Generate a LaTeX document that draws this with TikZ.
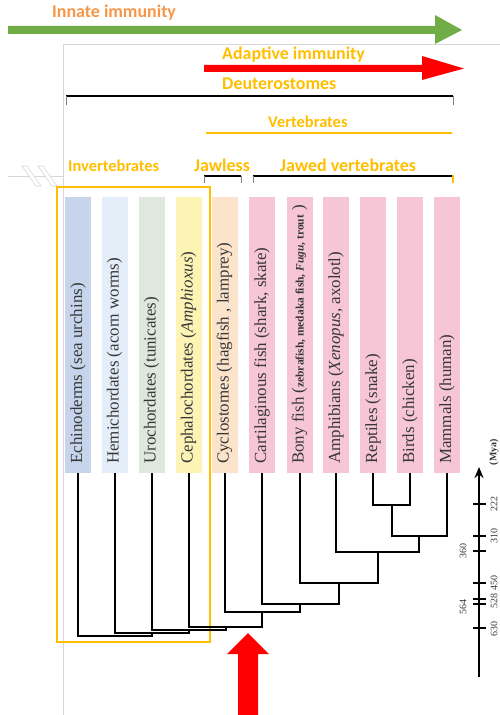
\documentclass[tikz,border=0pt]{standalone}
\usepackage{fontspec}
\setmainfont{Liberation Serif}
\newfontfamily\calib{Carlito}
\usetikzlibrary{arrows.meta}
\definecolor{gold}{RGB}{255,190,0}
\definecolor{innate}{RGB}{247,150,70}
\definecolor{grn}{RGB}{112,173,71}
\definecolor{txt}{RGB}{55,55,55}
\definecolor{bA}{RGB}{198,212,236}
\definecolor{bB}{RGB}{228,238,249}
\definecolor{bC}{RGB}{222,232,220}
\definecolor{bD}{RGB}{253,243,181}
\definecolor{bE}{RGB}{252,228,204}
\definecolor{bP}{RGB}{247,198,214}
\definecolor{frame}{RGB}{215,215,215}
\begin{document}
\begin{tikzpicture}[x=1bp,y=-1bp,
  hdr/.style={inner sep=0pt, anchor=base west, text=gold, font=\calib\bfseries\fontsize{18}{20}\selectfont},
  hdrs/.style={hdr, font=\calib\bfseries\fontsize{16.5}{19}\selectfont},
  barbox/.style={draw=none, minimum width=26bp, minimum height=276bp, inner sep=0pt},
  blabel/.style={rotate=90, anchor=west, inner sep=0pt, text=txt, font=\fontsize{17}{19}\selectfont},
  tree/.style={line width=2bp, line join=miter},
  axlbl/.style={rotate=90, inner sep=0pt, text=txt, font=\fontsize{10}{11}\selectfont},
  tickln/.style={line width=1.2bp},
  thinframe/.style={draw=frame, line width=0.8bp}]
\useasboundingbox (0,0) rectangle (500,715);
% frame lines
\draw[thinframe] (63,715) -- (63,44) -- (500,44);
% break mark on the left
\draw[thinframe] (8,176) -- (63,176);
\filldraw[draw=frame, fill=white, line width=0.6bp] (22,166) -- (27,166) -- (41,186) -- (36,186) -- cycle;
\filldraw[draw=frame, fill=white, line width=0.6bp] (38,166) -- (43,166) -- (57,186) -- (52,186) -- cycle;
% top arrows
\fill[grn] (8,26) -- (435,26) -- (435,15) -- (462,30) -- (435,44) -- (435,34) -- (8,34) -- cycle;
\node[hdr, text=innate] (innate) at (52,18) {Innate immunity};
\fill[red] (204,65) -- (422,65) -- (422,56) -- (464,68.5) -- (422,80) -- (422,72) -- (204,72) -- cycle;
\node[hdr] (adaptive) at (222,60) {Adaptive immunity};
% Deuterostomes bracket
\node[hdr] (deut) at (222,90) {Deuterostomes};
\draw[line width=1.5bp] (66,96) -- (453,96);
\draw[gray, line width=0.6bp] (66,96) -- (66,105) (453,96) -- (453,105);
% Vertebrates
\node[hdrs] (vert) at (268,128) {Vertebrates};
\draw[gold, line width=2bp] (206,133) -- (452,133);
% Invertebrates / Jawless / Jawed
\node[hdrs] (invert) at (68,171) {Invertebrates};
\node[hdr] (jawless) at (194,171) {Jawless};
\node[hdr] (jawed) at (280,171) {Jawed vertebrates};
\draw[line width=1.5bp] (204,176) -- (241,176);
\draw[gray, line width=0.6bp] (204,176) -- (204,183) (241,176) -- (241,183);
\draw[line width=1.5bp] (253,176) -- (453,176);
\draw[gray, line width=0.6bp] (253,176) -- (253,183);
\draw[gold, line width=2bp] (453,175) -- (453,183);
% bars
\node[barbox, fill=bA] (b1) at (78,335) {};
\node[barbox, fill=bB] (b2) at (114.5,335) {};
\node[barbox, fill=bC] (b3) at (151.5,335) {};
\node[barbox, fill=bD] (b4) at (188.5,335) {};
\node[barbox, fill=bE] (b5) at (224.5,335) {};
\node[barbox, fill=bP] (b6) at (262,335) {};
\node[barbox, fill=bP] (b7) at (299.5,335) {};
\node[barbox, fill=bP] (b8) at (336,335) {};
\node[barbox, fill=bP] (b9) at (373,335) {};
\node[barbox, fill=bP] (b10) at (410,335) {};
\node[barbox, fill=bP] (b11) at (447,335) {};
% bar labels
\node[blabel] (t1) at (78,464) {Echinoderms (sea urchins)};
\node[blabel] (t2) at (114.5,464) {Hemichordates (acorn worms)};
\node[blabel] (t3) at (151.5,464) {Urochordates (tunicates)};
\node[blabel] (t4) at (188.5,464) {Cephalochordates (\textit{Amphioxus})};
\node[blabel] (t5) at (224.5,464) {Cyclostomes (hagfish , lamprey)};
\node[blabel] (t6) at (262,464) {Cartilaginous fish (shark, skate)};
\node[blabel] (t7) at (299.5,464) {Bony fish ({\bfseries\fontsize{11.5}{12}\selectfont zebrafish, medaka fish, \textit{Fugu}, trout} )};
\node[blabel] (t8) at (336,464) {Amphibians (\textit{Xenopus}, axolotl)};
\node[blabel] (t9) at (373,464) {Reptiles (snake)};
\node[blabel] (t10) at (410,464) {Birds (chicken)};
\node[blabel] (t11) at (447,464) {Mammals (human)};
% invertebrate box
\draw[gold, line width=1.5bp] (57,187) rectangle (210,642);
% tree
\coordinate (n1) at (391.5,505);
\coordinate (n2) at (419,536);
\coordinate (n3) at (377.5,552);
\coordinate (n4) at (338.5,583);
\coordinate (n5) at (300,604);
\coordinate (n6) at (262,612);
\coordinate (n7) at (225.5,627);
\coordinate (n8) at (188.5,630);
\coordinate (n9) at (151.5,633);
\coordinate (n10) at (115,636);
\draw[tree] (b9.south) |- (n1) -| (b10.south);
\draw[tree] (n1) |- (n2) -| (b11.south);
\draw[tree] (b8.south) |- (n3) -| (n2);
\draw[tree] (b7.south) |- (n4) -| (n3);
\draw[tree] (b6.south) |- (n5) -| (n4);
\draw[tree] (b5.south) |- (n6) -| (n5);
\draw[tree] (b4.south) |- (n7) -| (n6);
\draw[tree] (b3.south) |- (n8) -| (n7);
\draw[tree] (b2.south) |- (n9) -| (n8);
\draw[tree] (b1.south) |- (n10) -| (n9);
% bottom red arrow
\fill[red] (248,633) -- (269,654) -- (258,654) -- (258,716) -- (238,716) -- (238,654) -- (227,654) -- cycle;
% time axis
\coordinate (axb) at (479,677);
\coordinate (axt) at (479,467);
\draw[line width=2bp, -{Stealth[length=11bp,width=9bp]}] (axb) -- (axt);
\foreach \v/\yy in {222/504,310/536,360/551,450/583,528/599,564/604,630/628}{
  \coordinate (k\v) at (479,\yy);
  \draw[tickln] (k\v) ++(-6,0) -- ++(13,0);
}
\node[axlbl] (l222) at (494,504) {222};
\node[axlbl] (l310) at (494,536) {310};
\node[axlbl] (l450) at (494,583) {450};
\node[axlbl] (l528) at (494,601) {528};
\node[axlbl] (l630) at (494,629) {630};
\node[axlbl] (l360) at (463,551) {360};
\node[axlbl] (l564) at (463,607) {564};
\node[axlbl, font=\bfseries\fontsize{10}{11}\selectfont] (mya) at (494,452) {(Mya)};
\end{tikzpicture}
\end{document}
